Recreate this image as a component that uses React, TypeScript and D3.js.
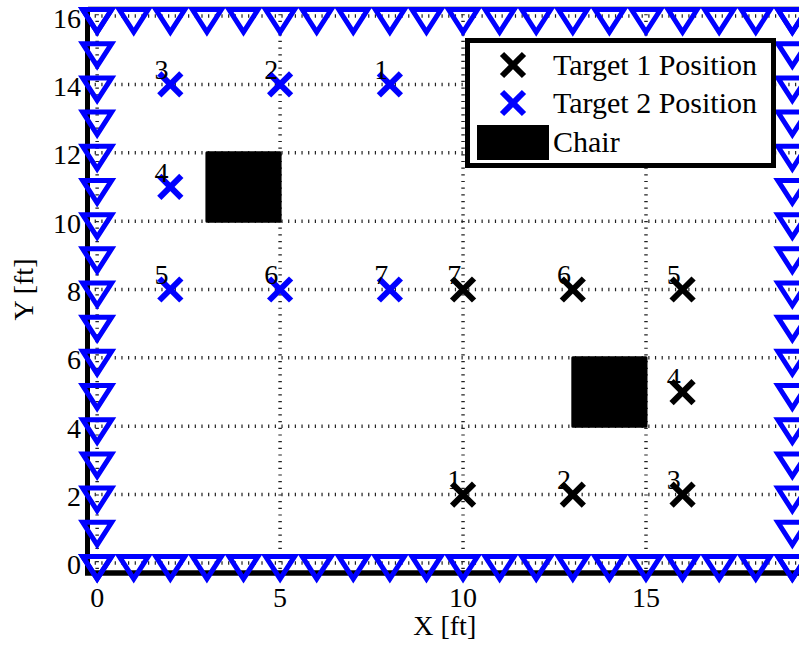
import React from "react";
import * as d3 from "d3";

const target1X = [10, 13, 16, 16, 16, 13, 10];
const target1Y = [2, 2, 2, 5, 8, 8, 8];
const target2X = [8, 5, 2, 2, 2, 5, 8];
const target2Y = [14, 14, 14, 11, 8, 8, 8];
const pointLabels = ["1", "2", "3", "4", "5", "6", "7"];
const chairs = [
  { x0: 3, x1: 5, y0: 10, y1: 12 },
  { x0: 13, x1: 15, y0: 4, y1: 6 },
];
const wallXs = d3.range(0, 20, 1);
const wallYs = d3.range(0, 17, 1);
const xTicks = [0, 5, 10, 15];
const yTicks = [0, 2, 4, 6, 8, 10, 12, 14, 16];
const legendLabels = ["Target 1 Position", "Target 2 Position", "Chair"];

const W = 799;
const H = 647;
const FONT = '"Liberation Serif", "Times New Roman", Times, "DejaVu Serif", serif';
const BLUE = "#0000ff";

export default function App() {
  const x = d3.scaleLinear().domain([-0.25, 19.25]).range([88, 801.5]);
  const y = d3.scaleLinear().domain([-0.25, 16.25]).range([571.5, 7.5]);
  const left = x(-0.25);
  const right = x(19.25);
  const top = y(16.25);
  const bottom = y(-0.25);

  const tri = "M-14.5,-6.5L14.5,-6.5L0,16Z";
  const walls: [number, number][] = [];
  wallXs.forEach((v) => {
    walls.push([v, 16]);
    walls.push([v, 0]);
  });
  wallYs.forEach((v) => {
    walls.push([0, v]);
    walls.push([19, v]);
  });

  const cross = (cx: number, cy: number, color: string, key: string) => (
    <g key={key} transform={`translate(${cx},${cy})`} stroke={color} strokeWidth={6}>
      <line x1={-11} y1={-11} x2={11} y2={11} />
      <line x1={-11} y1={11} x2={11} y2={-11} />
    </g>
  );

  const textStyle = { fontFamily: FONT };

  return (
    <svg
      width={W}
      height={H}
      style={{ position: "absolute", left: 0, top: 0, background: "#fff" }}
    >
      <rect x={0} y={0} width={W} height={H} fill="#fff" />
      {/* grid */}
      <g stroke="#222" strokeWidth={3.5} strokeDasharray="1.2,5.47">
        {yTicks.map((t) => (
          <line key={"gy" + t} x1={left} x2={right} y1={y(t)} y2={y(t)} />
        ))}
        {xTicks.map((t) => (
          <line key={"gx" + t} x1={x(t)} x2={x(t)} y1={top} y2={bottom} />
        ))}
      </g>
      {/* chairs */}
      {chairs.map((c, i) => (
        <rect
          key={"c" + i}
          x={x(c.x0)}
          y={y(c.y1)}
          width={x(c.x1) - x(c.x0)}
          height={y(c.y0) - y(c.y1)}
          fill="#000"
          stroke="#000"
          strokeWidth={3}
          strokeLinejoin="round"
        />
      ))}
      {/* targets */}
      {target1X.map((v, i) => cross(x(v), y(target1Y[i]), "#000", "t1" + i))}
      {target2X.map((v, i) => cross(x(v), y(target2Y[i]), BLUE, "t2" + i))}
      <g fontSize={28} fill="#000" style={textStyle}>
        {target1X.map((v, i) => (
          <text key={"l1" + i} x={x(v - 0.43)} y={y(target1Y[i] + 0.15)}>
            {pointLabels[i]}
          </text>
        ))}
        {target2X.map((v, i) => (
          <text key={"l2" + i} x={x(v - 0.43)} y={y(target2Y[i] + 0.15)}>
            {pointLabels[i]}
          </text>
        ))}
      </g>
      {/* axes lines */}
      <line x1={left} x2={right} y1={top} y2={top} stroke="#000" strokeWidth={1.5} />
      <line x1={87.5} x2={87.5} y1={top} y2={bottom + 3} stroke="#000" strokeWidth={5} />
      <line x1={85} x2={right} y1={573} y2={573} stroke="#000" strokeWidth={5.5} />
      {/* walls */}
      <g fill="none" stroke={BLUE} strokeWidth={5}>
        {walls.map(([wx, wy], i) => (
          <path key={"w" + i} d={tri} transform={`translate(${x(wx)},${y(wy)})`} />
        ))}
      </g>
      {/* tick labels */}
      <g fontSize={28} fill="#000" style={textStyle}>
        {xTicks.map((t) => (
          <text key={"xt" + t} x={x(t)} y={607} textAnchor="middle">
            {t}
          </text>
        ))}
        {yTicks.map((t) => (
          <text key={"yt" + t} x={81} y={y(t) + 2} textAnchor="end" dominantBaseline="central">
            {t}
          </text>
        ))}
        <text x={(left + right) / 2} y={635} textAnchor="middle">
          X [ft]
        </text>
        <text
          transform={`translate(33,${(top + bottom) / 2}) rotate(-90)`}
          textAnchor="middle"
        >
          Y [ft]
        </text>
      </g>
      {/* legend */}
      <g>
        <rect x={467.5} y={40.5} width={306} height={125} fill="#fff" stroke="#000" strokeWidth={5} />
        {cross(513, 65, "#000", "lg1")}
        {cross(513, 103, BLUE, "lg2")}
        <rect x={478} y={126} width={70} height={33} fill="#000" stroke="#000" strokeWidth={2} />
        <g fontSize={30} fill="#000" style={textStyle}>
          <text x={553} y={75}>{legendLabels[0]}</text>
          <text x={553} y={113}>{legendLabels[1]}</text>
          <text x={553} y={152}>{legendLabels[2]}</text>
        </g>
      </g>
    </svg>
  );
}
